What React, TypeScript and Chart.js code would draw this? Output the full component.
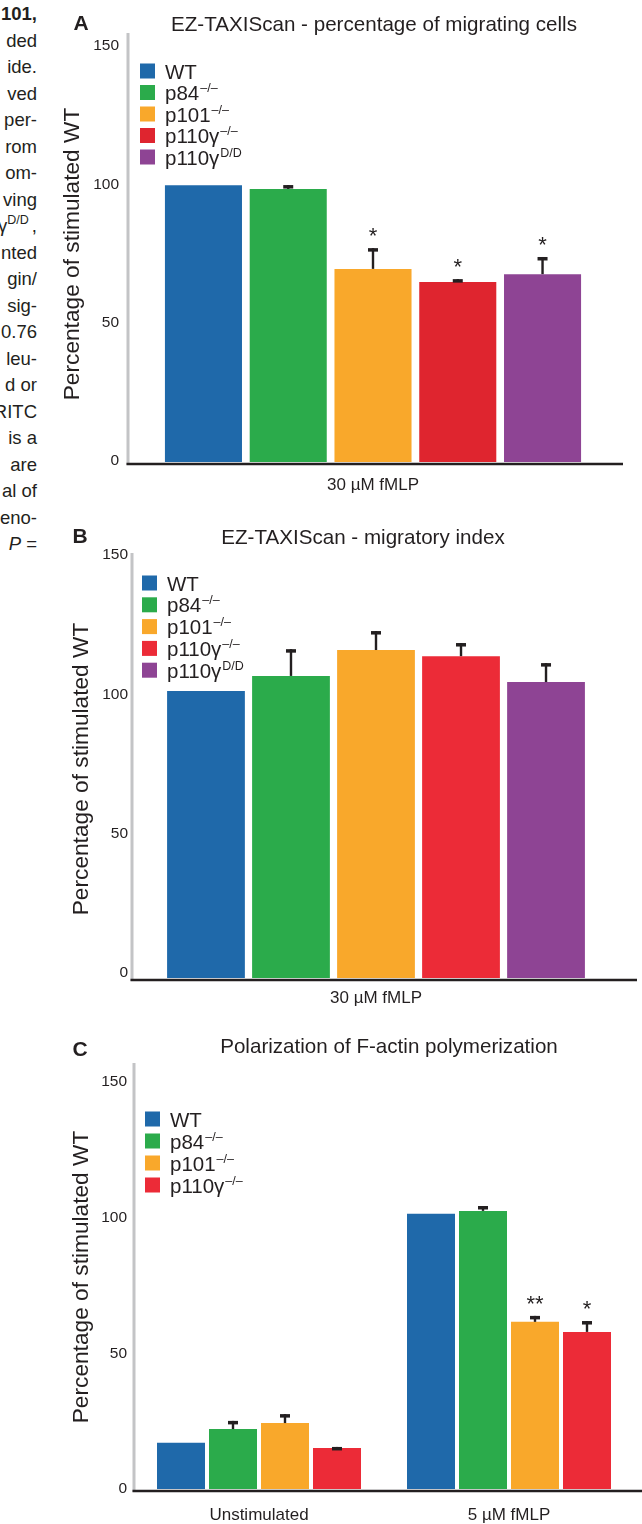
import React, { useEffect, useRef } from "react";
import { Chart, registerables } from "chart.js";

Chart.register(...registerables);

const FONT = "'Liberation Sans', Arial, Helvetica, sans-serif";
const INK = "#231f20";

// ---------- data ----------
const genotypeNames = ["WT", "p84", "p101", "p110γ", "p110γ"];
const genotypeSups = ["", "–/–", "–/–", "–/–", "D/D"];
const yTicks = [0, 50, 100, 150];

// Panel A: EZ-TAXIScan - percentage of migrating cells
const categoriesA = ["30 µM fMLP"];
const meanA = [100, 98.7, 69.8, 65.1, 67.9];
const semA = [0, 1.4, 7.5, 1.0, 6.2];
const starsA = ["", "", "*", "*", "*"];

// Panel B: EZ-TAXIScan - migratory index
const categoriesB = ["30 µM fMLP"];
const meanB = [103.0, 108.4, 117.7, 115.5, 106.2];
const semB = [0, 9.6, 6.8, 4.7, 6.8];
const starsB = ["", "", "", "", ""];

// Panel C: Polarization of F-actin polymerization
const categoriesC = ["Unstimulated", "5 µM fMLP"];
const wtC = [17.0, 101.4];
const p84C = [22.1, 102.5];
const p101C = [24.3, 61.6];
const p110C = [15.1, 57.9];
const wtSemC = [0, 0];
const p84SemC = [3.0, 1.8];
const p101SemC = [3.3, 2.2];
const p110SemC = [0.4, 4.0];
const wtStarsC = ["", ""];
const p84StarsC = ["", ""];
const p101StarsC = ["", "**"];
const p110StarsC = ["", "*"];

const colorsA = ["#1f69aa", "#2bab4b", "#f9a82b", "#df252f", "#8e4494"];
const colorsBC = ["#1f69aa", "#2bab4b", "#f9a82b", "#ec2b37", "#8e4494"];

const sideText = [
  "101,", "ded", "ide.", "ved", "per-", "rom", "om-", "ving", "γ", "nted", "gin/",
  "sig-", "0.76", "leu-", "d or", "RITC", "is a", "are", "al of", "eno-", "P =",
];

// ---------- panel specs ----------
type Spec = {
  top: number; height: number;
  area: { left: number; right: number; top: number; bottom: number };
  axisX: number;
  categories: string[];
  series: number[][]; sems: number[][]; stars: string[][];
  colors: string[]; names: string[]; sups: string[];
  catPct: number; barPct: number;
  letter: string; letterX: number; letterY: number;
  title: string; titleX: number; titleY: number;
  axisTitleX: number; axisTitleY: number;
  axisTop: number; baseRight: number;
  legendX: number; legendY: number; legendPitch: number;
  xPad: number; yPad: number; yLabelOffset: number;
};

const W = 642;

const specA: Spec = {
  top: 0, height: 505,
  area: { left: 126, right: 620, top: 47, bottom: 462 },
  axisX: 128,
  categories: categoriesA,
  series: meanA.map((v) => [v]), sems: semA.map((v) => [v]), stars: starsA.map((v) => [v]),
  colors: colorsA, names: genotypeNames, sups: genotypeSups,
  catPct: 0.858, barPct: 0.909,
  letter: "A", letterX: 81, letterY: 24,
  title: "EZ-TAXIScan - percentage of migrating cells", titleX: 374, titleY: 25,
  axisTitleX: 73, axisTitleY: 254,
  axisTop: 33, baseRight: 623,
  legendX: 140, legendY: 71, legendPitch: 21.5,
  xPad: 13, yPad: 7, yLabelOffset: -1,
};

const specB: Spec = {
  top: 505, height: 510,
  area: { left: 132, right: 620, top: 55, bottom: 473 },
  axisX: 132,
  categories: categoriesB,
  series: meanB.map((v) => [v]), sems: semB.map((v) => [v]), stars: starsB.map((v) => [v]),
  colors: colorsBC, names: genotypeNames, sups: genotypeSups,
  catPct: 0.871, barPct: 0.915,
  letter: "B", letterX: 80, letterY: 32,
  title: "EZ-TAXIScan - migratory index", titleX: 363, titleY: 33,
  axisTitleX: 82, axisTitleY: 264,
  axisTop: 48, baseRight: 637,
  legendX: 142, legendY: 78, legendPitch: 21.8,
  xPad: 10, yPad: 4, yLabelOffset: -5,
};

const specC: Spec = {
  top: 1015, height: 509,
  area: { left: 134, right: 634, top: 67, bottom: 474 },
  axisX: 134,
  categories: categoriesC,
  series: [wtC, p84C, p101C, p110C],
  sems: [wtSemC, p84SemC, p101SemC, p110SemC],
  stars: [wtStarsC, p84StarsC, p101StarsC, p110StarsC],
  colors: colorsBC.slice(0, 4), names: genotypeNames.slice(0, 4), sups: genotypeSups.slice(0, 4),
  catPct: 0.832, barPct: 0.923,
  letter: "C", letterX: 80, letterY: 35,
  title: "Polarization of F-actin polymerization", titleX: 389, titleY: 32,
  axisTitleX: 82, axisTitleY: 262,
  axisTop: 48, baseRight: 642,
  legendX: 145, legendY: 104, legendPitch: 22,
  xPad: 16, yPad: 7, yLabelOffset: 0,
};

function decorPlugin(p: Spec) {
  return {
    id: "decor",
    afterDatasetsDraw(chart: any) {
      const ctx: CanvasRenderingContext2D = chart.ctx;
      const { bottom } = chart.chartArea;
      const y = chart.scales.y;
      ctx.save();
      // y axis line (grey)
      ctx.strokeStyle = "#c3c4c6";
      ctx.lineWidth = 3;
      ctx.beginPath();
      ctx.moveTo(p.axisX, p.axisTop);
      ctx.lineTo(p.axisX, bottom + 3);
      ctx.stroke();
      // baseline (dark)
      ctx.strokeStyle = INK;
      ctx.lineWidth = 2.6;
      ctx.beginPath();
      ctx.moveTo(p.axisX - 1.5, bottom + 2);
      ctx.lineTo(p.baseRight, bottom + 2);
      ctx.stroke();

      // error bars and significance stars
      chart.data.datasets.forEach((ds: any, di: number) => {
        const meta = chart.getDatasetMeta(di);
        meta.data.forEach((bar: any, i: number) => {
          const v = ds.data[i];
          const e = p.sems[di][i];
          const x = bar.x;
          const topY = y.getPixelForValue(v + e);
          ctx.fillStyle = INK;
          if (e > 0) {
            ctx.fillRect(x - 1.2, topY, 2.4, bar.y - topY);
            ctx.fillRect(x - 5, topY, 10, 3.5);
          }
          const s = p.stars[di][i];
          if (s) {
            ctx.font = `22px ${FONT}`;
            ctx.textAlign = "center";
            ctx.textBaseline = "alphabetic";
            ctx.fillText(s, x, topY - 5);
          }
        });
      });

      // legend
      p.names.forEach((n, i) => {
        const cy = p.legendY + i * p.legendPitch;
        ctx.fillStyle = p.colors[i];
        ctx.fillRect(p.legendX, cy - 7.5, 15, 15);
        ctx.fillStyle = INK;
        ctx.font = `20.5px ${FONT}`;
        ctx.textAlign = "left";
        ctx.textBaseline = "alphabetic";
        const tx = p.legendX + 25;
        ctx.fillText(n, tx, cy + 7.5);
        const w = ctx.measureText(n).width;
        ctx.font = `12.5px ${FONT}`;
        ctx.fillText(p.sups[i], tx + w + 1, cy - 0.5);
      });

      // panel letter
      ctx.fillStyle = INK;
      ctx.font = `bold 21px ${FONT}`;
      ctx.textAlign = "center";
      ctx.textBaseline = "middle";
      ctx.fillText(p.letter, p.letterX, p.letterY);
      // title
      ctx.font = `20.6px ${FONT}`;
      ctx.fillText(p.title, p.titleX, p.titleY);
      // y axis title
      ctx.save();
      ctx.translate(p.axisTitleX, p.axisTitleY);
      ctx.rotate(-Math.PI / 2);
      ctx.font = `22.7px ${FONT}`;
      ctx.fillText("Percentage of stimulated WT", 0, 0);
      ctx.restore();
      ctx.restore();
    },
  };
}

function Panel({ spec }: { spec: Spec }) {
  const ref = useRef<HTMLCanvasElement | null>(null);
  useEffect(() => {
    const canvas = ref.current;
    if (!canvas) return;
    const p = spec;
    const chart = new Chart(canvas, {
      type: "bar",
      data: {
        labels: p.categories,
        datasets: p.series.map((data, i) => ({
          label: p.names[i] + p.sups[i],
          data,
          backgroundColor: p.colors[i],
          borderWidth: 0,
          categoryPercentage: p.catPct,
          barPercentage: p.barPct,
        })),
      },
      options: {
        responsive: false,
        animation: false,
        devicePixelRatio: 1,
        layout: { padding: { left: 0, top: p.area.top, right: W - p.area.right, bottom: 0 } },
        plugins: { legend: { display: false }, tooltip: { enabled: false }, title: { display: false } },
        scales: {
          x: {
            grid: { display: false, drawTicks: false },
            border: { display: false },
            ticks: { color: INK, font: { size: 17, family: FONT }, padding: p.xPad },
            afterFit: (s: any) => { s.height = p.height - p.area.bottom; },
          },
          y: {
            min: 0,
            max: 150,
            afterBuildTicks: (s: any) => { s.ticks = yTicks.map((v) => ({ value: v })); },
            grid: { display: false, drawTicks: false },
            border: { display: false },
            ticks: { color: INK, font: { size: 15.5, family: FONT }, padding: p.yPad, labelOffset: p.yLabelOffset },
            afterFit: (s: any) => { s.width = p.area.left; },
          },
        },
      } as any,
      plugins: [decorPlugin(p)],
    });
    return () => chart.destroy();
  }, [spec]);
  return (
    <canvas
      ref={ref}
      width={W}
      height={spec.height}
      style={{ position: "absolute", left: 0, top: spec.top, width: W, height: spec.height, display: "block" }}
    />
  );
}

function SideText() {
  return (
    <div style={{ position: "absolute", left: 0, top: 0, width: 38, height: 560, overflow: "hidden" }}>
      {sideText.map((t, i) => {
        const cy = 14 + i * 26.5;
        let content: React.ReactNode = t;
        if (i === 0) content = <b>{t}</b>;
        if (i === 8)
          content = (
            <span>
              {t}
              <span style={{ fontSize: 12.5, position: "relative", top: -8 }}>D/D</span>
              <span style={{ marginLeft: 3 }}>,</span>
            </span>
          );
        if (i === 20)
          content = (
            <span>
              <i>P</i> =
            </span>
          );
        return (
          <div
            key={i}
            style={{
              position: "absolute",
              right: 1,
              top: cy - 11,
              height: 22,
              lineHeight: "22px",
              fontSize: 18.5,
              whiteSpace: "nowrap",
              textAlign: "right",
              color: INK,
              fontFamily: FONT,
            }}
          >
            {content}
          </div>
        );
      })}
    </div>
  );
}

export default function App() {
  return (
    <div style={{ position: "absolute", left: 0, top: 0, width: W, height: 1524, overflow: "hidden", background: "#fff" }}>
      <SideText />
      <Panel spec={specA} />
      <Panel spec={specB} />
      <Panel spec={specC} />
    </div>
  );
}
